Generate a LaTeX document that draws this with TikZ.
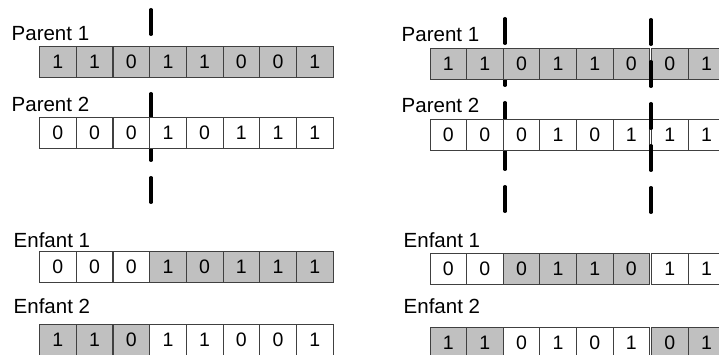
\documentclass[tikz,border=0pt]{standalone}
\usepackage{fontspec}
\setmainfont{Liberation Sans}
\usetikzlibrary{positioning}
\pgfdeclarelayer{background layer}
\pgfsetlayers{background layer,main}
\definecolor{genegray}{RGB}{192,192,192}
\tikzstyle{wcell} = [rectangle, draw=black!75, line width=0.8pt, fill=white,
minimum width=36.6pt, minimum height=31pt, inner sep=0pt, font=\fontsize{19.5}{21}\selectfont]
\tikzstyle{gcell} = [wcell, fill=genegray]
\tikzstyle{tag} = [anchor=base west, inner sep=0pt, font=\fontsize{20.5}{23}\selectfont]
\tikzstyle{cut} = [draw, line width=3.2pt, line cap=round, dash pattern=on 24.8pt off 17.2pt]

\begin{document}
\begin{tikzpicture}[x=1pt, y=-1pt]
			\useasboundingbox (0,0) rectangle (719,355);
			% one crossing point
			\begin{pgfonlayer}{background layer}
			\draw [cut] (151,9.6) -- (151,202.4);
			\end{pgfonlayer}
			\node [tag] (lp1) at (11.5,41) {Parent 1};
			\foreach \b/\s [count=\i] in {1/gcell,1/gcell,0/gcell,1/gcell,1/gcell,0/gcell,0/gcell,1/gcell}
			  \node [\s] (lp1-\i) at ({39.5+36.7*(\i-0.5)},61.5) {\b};
			\node [tag] (lp2) at (11.5,112) {Parent 2};
			\foreach \b/\s [count=\i] in {0/wcell,0/wcell,0/wcell,1/wcell,0/wcell,1/wcell,1/wcell,1/wcell}
			  \node [\s] (lp2-\i) at ({39.5+36.7*(\i-0.5)},133) {\b};
			\node [tag] (le1) at (13.5,247) {Enfant 1};
			\foreach \b/\s [count=\i] in {0/wcell,0/wcell,0/wcell,1/gcell,0/gcell,1/gcell,1/gcell,1/gcell}
			  \node [\s] (le1-\i) at ({39.5+36.7*(\i-0.5)},267) {\b};
			\node [tag] (le2) at (13.5,313) {Enfant 2};
			\foreach \b/\s [count=\i] in {1/gcell,1/gcell,0/gcell,1/wcell,1/wcell,0/wcell,0/wcell,1/wcell}
			  \node [\s] (le2-\i) at ({39.5+36.7*(\i-0.5)},339.5) {\b};

			% two crossing points
			\begin{pgfonlayer}{background layer}
			\draw [cut] (505,18.6) -- (505,211.4);
			\end{pgfonlayer}
			\node [tag] (rp1) at (401.5,42) {Parent 1};
			\foreach \b/\s [count=\i] in {1/gcell,1/gcell,0/gcell,1/gcell,1/gcell,0/gcell,0/gcell,1/gcell}
			  \node [\s] (rp1-\i) at ({430+36.6*(\i-0.5)+2*(\i>6)},63.5) {\b};
			\node [tag] (rp2) at (401.5,113) {Parent 2};
			\foreach \b/\s [count=\i] in {0/wcell,0/wcell,0/wcell,1/wcell,0/wcell,1/wcell,1/wcell,1/wcell}
			  \node [\s] (rp2-\i) at ({430+36.6*(\i-0.5)+2*(\i>6)},134.5) {\b};
			\node [tag] (re1) at (403.5,247) {Enfant 1};
			\foreach \b/\s [count=\i] in {0/wcell,0/wcell,0/gcell,1/gcell,1/gcell,0/gcell,1/wcell,1/wcell}
			  \node [\s] (re1-\i) at ({430+36.6*(\i-0.5)+2*(\i>6)},268.5) {\b};
			\node [tag] (re2) at (403.5,313) {Enfant 2};
			\foreach \b/\s [count=\i] in {1/gcell,1/gcell,0/wcell,1/wcell,0/wcell,1/wcell,0/gcell,1/gcell}
			  \node [\s] (re2-\i) at ({430+36.6*(\i-0.5)+2*(\i>6)},342.5) {\b};
			\draw [cut] (651,19.6) -- (651,212.4);
			\end{tikzpicture}
\end{document}
